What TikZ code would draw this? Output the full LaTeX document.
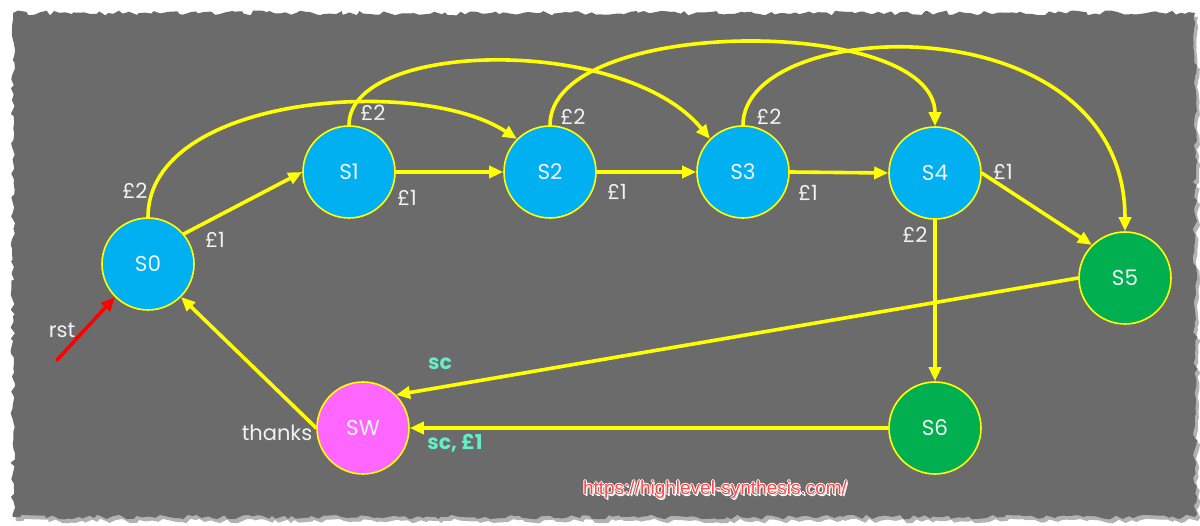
\documentclass[tikz,border=0pt]{standalone}
\usepackage{fontspec}
\setmainfont{Poppins}
\newfontfamily\urlfont{Liberation Sans}
\usetikzlibrary{arrows.meta,decorations.pathmorphing}

\definecolor{paper}{HTML}{6B6B6B}
\definecolor{stateblue}{HTML}{00B0F0}
\definecolor{stategreen}{HTML}{00B050}
\definecolor{statepink}{HTML}{FF66FF}
\definecolor{wire}{HTML}{FFFF00}
\definecolor{cond}{HTML}{66EEC8}
\definecolor{linkred}{HTML}{FF4848}
\definecolor{labelwhite}{HTML}{F2F2F2}

\tikzset{
  state/.style={circle, minimum size=92pt, inner sep=0pt, draw=wire,
    line width=1.6pt, text=labelwhite, font=\fontsize{21.5}{21.5}\selectfont},
  bluestate/.style={state, fill=stateblue},
  greenstate/.style={state, fill=stategreen},
  pinkstate/.style={state, fill=statepink},
  conn/.style={draw=wire, line width=3.6pt, line cap=round,
    -{Triangle[length=14pt,width=12pt]}},
  resetconn/.style={draw=red, line width=3.6pt, line cap=round,
    -{Triangle[length=14pt,width=12pt]}},
  cost/.style={text=labelwhite, inner sep=0pt, font=\fontsize{21}{21}\selectfont},
  guard/.style={text=cond, inner sep=0pt, font=\bfseries\fontsize{20.5}{20.5}\selectfont},
  linktext/.style={inner sep=0pt, font=\urlfont\fontsize{19}{19}\selectfont},
  torn/.style={decorate, decoration={random steps, segment length=5pt, amplitude=2.4pt}},
}

\begin{document}
\begin{tikzpicture}[x=1pt, y=-1pt]
  \useasboundingbox (0,0) rectangle (1200,526);
  \fill[white] (0,0) rectangle (1200,526);

  % torn paper sheet with its soft shadow
  \pgfmathsetseed{11}
  \fill[black!30, torn] (16,17) rectangle (1198,521);
  \pgfmathsetseed{11}
  \fill[paper, torn] (13,13) rectangle (1195,517);

  % states
  \node[bluestate]  (s0) at (148,264) {S0};
  \node[bluestate]  (s1) at (349,172) {S1};
  \node[bluestate]  (s2) at (550,172) {S2};
  \node[bluestate]  (s3) at (743,172) {S3};
  \node[bluestate]  (s4) at (935,173) {S4};
  \node[greenstate] (s5) at (1125,278) {S5};
  \node[greenstate] (s6) at (935,428) {S6};
  \node[pinkstate]  (sw) at (363,428) {SW};

  % one-pound transitions
  \draw[conn] (s0.40) -- (s1.west);
  \draw[conn] (s1.east) -- (s2.west);
  \draw[conn] (s2.east) -- (s3.west);
  \draw[conn] (s3.east) -- (s4.west);
  \draw[conn] (s4.east) -- (s5.135);

  % two-pound transitions
  \draw[conn] (s0.north) .. controls (148,95) and (420,75) .. (s2.135);
  \draw[conn] (s1.north) .. controls (349,40) and (625,35) .. (s3.135);
  \draw[conn] (s2.north) .. controls (550,15) and (935,15) .. (s4.north);
  \draw[conn] (s3.north) .. controls (743,15) and (1125,0) .. (s5.north);
  \draw[conn] (s4.south) -- (s6.north);

  % vending and return
  \draw[conn] (s5.west) -- (sw.45);
  \draw[conn] (s6.west) -- (sw.east);
  \draw[conn] (sw.west) -- (s0.-45);

  % reset
  \coordinate (rstin) at (57,360);
  \draw[resetconn] (rstin) -- (s0.-135);

  % labels
  \node[cost] (l01) at (215,240) {£1};
  \node[cost] (l02) at (135,191) {£2};
  \node[cost] (l11) at (407,198) {£1};
  \node[cost] (l12) at (373,113) {£2};
  \node[cost] (l21) at (617,192) {£1};
  \node[cost] (l22) at (573,117) {£2};
  \node[cost] (l31) at (808,193) {£1};
  \node[cost] (l32) at (769,117) {£2};
  \node[cost] (l41) at (1003,172) {£1};
  \node[cost] (l42) at (915,235) {£2};
  \node[cost] (lrst) at (62,330) {rst};
  \node[cost] (lthx) at (277,433) {thanks};
  \node[guard] (lsc) at (440,364) {sc};
  \node[guard] (lsc1) at (455,443) {sc, £1};

  % link, with a white halo under the red lettering
  \foreach \dx/\dy in {1.5/1.5, -1/0, 1/0, 0/-1, 0/1}
    \node[linktext, text=white] at (715+\dx,490+\dy) {https://highlevel-synthesis.com/};
  \node[linktext, text=linkred] (url) at (715,490) {https://highlevel-synthesis.com/};
\end{tikzpicture}
\end{document}
